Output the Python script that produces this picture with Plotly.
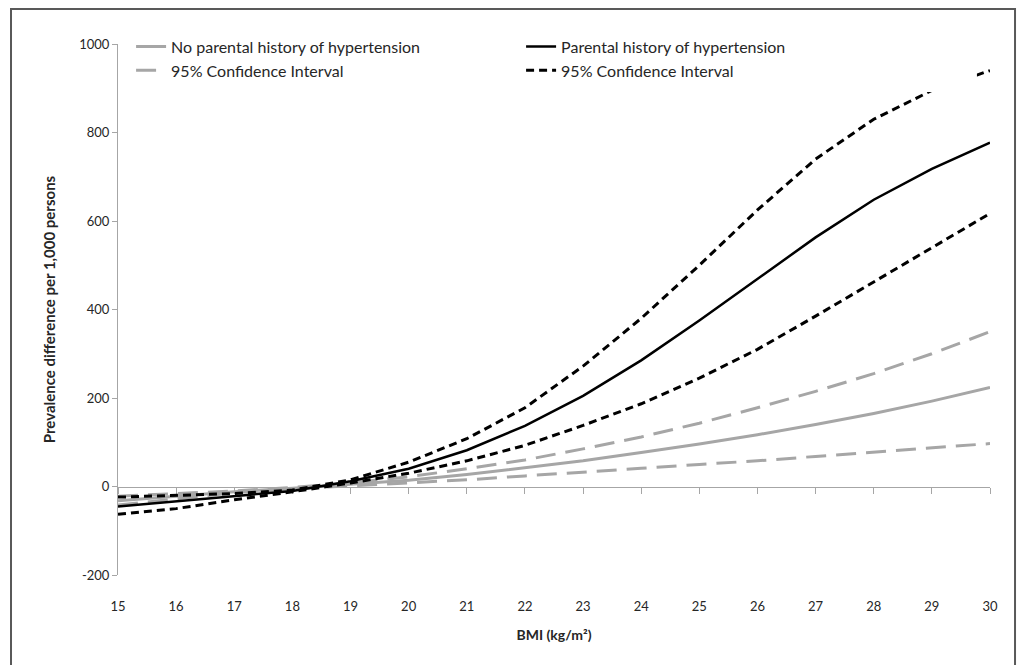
import plotly.graph_objects as go

bmi = [15, 16, 17, 18, 19, 20, 21, 22, 23, 24, 25, 26, 27, 28, 29, 30]

no_hist = [-32, -22, -12, -4, 5, 14, 27, 42, 58, 77, 96, 117, 140, 165, 193, 224]
no_hist_upper = [-22, -16, -10, -2, 8, 22, 40, 60, 85, 112, 143, 178, 215, 255, 300, 350]
no_hist_lower = [-42, -28, -14, -5, 2, 8, 15, 24, 32, 41, 50, 58, 68, 78, 87, 97]

hist = [-45, -33, -22, -10, 12, 40, 82, 137, 205, 285, 375, 468, 563, 648, 718, 777]
hist_upper = [-24, -20, -16, -8, 15, 55, 108, 178, 272, 380, 500, 625, 740, 830, 895, 940]
hist_lower = [-63, -50, -30, -12, 8, 30, 58, 93, 138, 187, 245, 310, 385, 462, 540, 617]

y_ticks = [-200, 0, 200, 400, 600, 800, 1000]
y_tick_text = ["-200", "0", "200", "400", "600", "800", "1000"]

GRAY = "#A6A6A6"
AXIS = "#A6A6A6"
TEXT = "#262626"
FONT = "Lato"

fig = go.Figure()

fig.add_trace(go.Scatter(x=[], y=[], xaxis="x2", showlegend=False, hoverinfo="skip"))

fig.add_trace(go.Scatter(x=bmi, y=no_hist_upper, mode="lines", name="95% Confidence Interval",
                         line=dict(color=GRAY, width=3, dash="20px,10px"), legendrank=3))
fig.add_trace(go.Scatter(x=bmi, y=no_hist_lower, mode="lines", name="95% Confidence Interval",
                         line=dict(color=GRAY, width=3, dash="20px,10px"), showlegend=False))
fig.add_trace(go.Scatter(x=bmi, y=no_hist, mode="lines", name="No parental history of hypertension",
                         line=dict(color=GRAY, width=3), legendrank=1))

fig.add_trace(go.Scatter(x=bmi, y=hist_upper, mode="lines", name="95% Confidence Interval",
                         line=dict(color="black", width=3, dash="8px,5px"), legendrank=4))
fig.add_trace(go.Scatter(x=bmi, y=hist_lower, mode="lines", name="95% Confidence Interval",
                         line=dict(color="black", width=3, dash="8px,5px"), showlegend=False))
fig.add_trace(go.Scatter(x=bmi, y=hist, mode="lines", name="Parental history of hypertension",
                         line=dict(color="black", width=2.5), legendrank=2))

fig.update_layout(
    width=1018, height=657,
    margin=dict(l=110, r=36, t=36, b=90),
    paper_bgcolor="white", plot_bgcolor="white",
    font=dict(family=FONT, color=TEXT),
    showlegend=True,
    legend=dict(orientation="h", x=0.015, y=1.027, xanchor="left", yanchor="top",
                entrywidth=345, entrywidthmode="pixels", bgcolor="rgba(0,0,0,0)",
                font=dict(size=16, family=FONT, color=TEXT),
                traceorder="normal"),
    xaxis=dict(range=[15, 30], tickvals=bmi, ticktext=[str(v) for v in bmi],
               showline=False, showgrid=False, zeroline=False, ticks="",
               tickfont=dict(size=13, family=FONT, color=TEXT),
               ticklabelstandoff=22,
               title=dict(text="<b>BMI (kg/m²)</b>", font=dict(size=14, family=FONT, color=TEXT),
                          standoff=17)),
    xaxis2=dict(range=[15, 30], overlaying="x", anchor="free", position=1/6,
                tickvals=bmi, showticklabels=False, showline=True, linecolor=AXIS, linewidth=1,
                ticks="outside", ticklen=6, tickcolor=AXIS, showgrid=False, zeroline=False,
                layer="below traces"),
    yaxis=dict(range=[-200, 1000], tickvals=y_ticks, ticktext=y_tick_text,
               showgrid=False, zeroline=False,
               showline=True, linecolor=AXIS, linewidth=1, ticks="outside", ticklen=5,
               tickcolor=AXIS, tickfont=dict(size=13, family=FONT, color=TEXT),
               layer="below traces",
               title=dict(text="<b>Prevalence difference per 1,000 persons</b>",
                          font=dict(size=15, family=FONT, color=TEXT), standoff=19)),
)

# legend box area of the original chart (occludes the top of the upper CI line)
fig.add_shape(type="rect", xref="paper", yref="paper",
              x0=0.5, x1=0.985, y0=0.9096, y1=1.0,
              line=dict(width=0), fillcolor="white", layer="above")

# outer chart frame
fig.add_shape(type="rect", xref="paper", yref="paper",
              x0=-0.1227, x1=1.0287, y0=-0.2, y1=1.066,
              line=dict(color="#595959", width=2), fillcolor="rgba(0,0,0,0)", layer="below")

fig.write_html("out.html")
